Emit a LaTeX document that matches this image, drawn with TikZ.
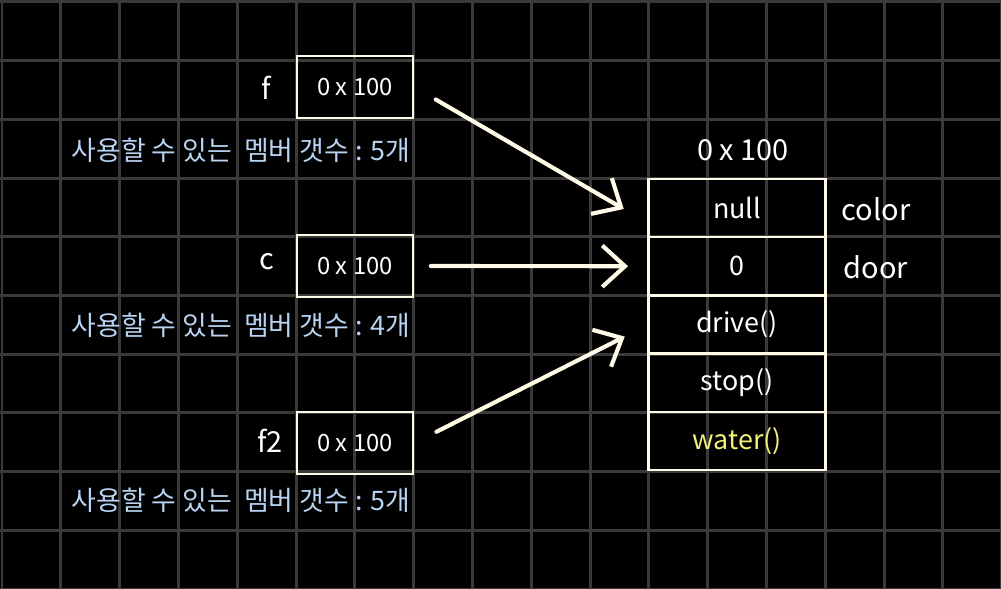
\documentclass[tikz,border=0pt]{standalone}
\usepackage{fontspec}
\setmainfont{Noto Sans CJK KR}
\usetikzlibrary{arrows.meta, positioning}
\definecolor{gridgray}{HTML}{3A3A3A}
\definecolor{chalk}{HTML}{FFFBE8}
\definecolor{memo}{HTML}{B8D3F2}
\definecolor{marker}{HTML}{F2F07A}

\tikzset{
  gridline/.style={gridgray, line width=1.45pt},
  refbox/.style={draw=chalk, line width=1.3pt, minimum width=1.97cm, minimum height=1.05cm, text=white, font=\fontsize{11.5}{13}\selectfont},
  cell/.style={draw=chalk, line width=1.3pt, minimum width=3.0cm, minimum height=0.99cm, outer sep=0pt, text=white, font=\fontsize{13}{15}\selectfont},
  varname/.style={text=white, font=\fontsize{14}{16}\selectfont},
  count/.style={text=memo, font=\fontsize{13}{15}\selectfont},
  ptr/.style={chalk, line width=2pt, line cap=round, -{Straight Barb[length=11pt, width=20pt, line width=2pt]}}
}

\begin{document}
\begin{tikzpicture}[x=0.017cm, y=-0.017cm]
% Background and grid
\fill[black] (0,0) rectangle (1001,589);
\useasboundingbox (0,0) rectangle (1001,589);
\foreach \i in {0,...,17}
  \draw[gridline] (2+58.8*\i,0) -- (2+58.8*\i,589);
\foreach \j in {0,...,10}
  \draw[gridline] (0,2+58.7*\j) -- (1001,2+58.7*\j);

% Reference variables
\node[refbox] (fbox)  at (355,87)  {0 x 100};
\node[refbox] (cbox)  at (355,266) {0 x 100};
\node[refbox] (ftbox) at (355,443) {0 x 100};
\node[varname] (flab)  at (266,88)  {f};
\node[varname] (clab)  at (267,262) {c};
\node[varname] (ftlab) at (270,441) {f2};

% Member counts
\node[count] (fcount)  at (241,150) {사용할 수 있는 \ 멤버 갯수 : 5개};
\node[count] (ccount)  at (241,325) {사용할 수 있는 \ 멤버 갯수 : 4개};
\node[count] (ftcount) at (241,500) {사용할 수 있는 \ 멤버 갯수 : 5개};

% Object in memory
\node[cell] (rnull) at (737,208) {null};
\node[cell, below=0pt of rnull] (rzero) {0};
\node[cell, below=0pt of rzero] (rdrive) {drive()};
\node[cell, below=0pt of rdrive] (rstop) {stop()};
\node[cell, below=0pt of rstop, text=marker] (rwater) {water()};
\node[varname] (addr) at (743,150) {0 x 100};
\node[varname] (color) at (876,209) {color};
\node[varname] (door)  at (876,267) {door};

% Pointers
\draw[ptr, shorten <=12pt, shorten >=14pt] (fbox.east) -- (rnull.190);
\draw[ptr, shorten <=8pt, shorten >=10pt] (cbox.east) -- (rzero.west);
\draw[ptr, shorten <=12pt, shorten >=13pt] (ftbox.east) -- (rdrive.west);
\end{tikzpicture}
\end{document}
